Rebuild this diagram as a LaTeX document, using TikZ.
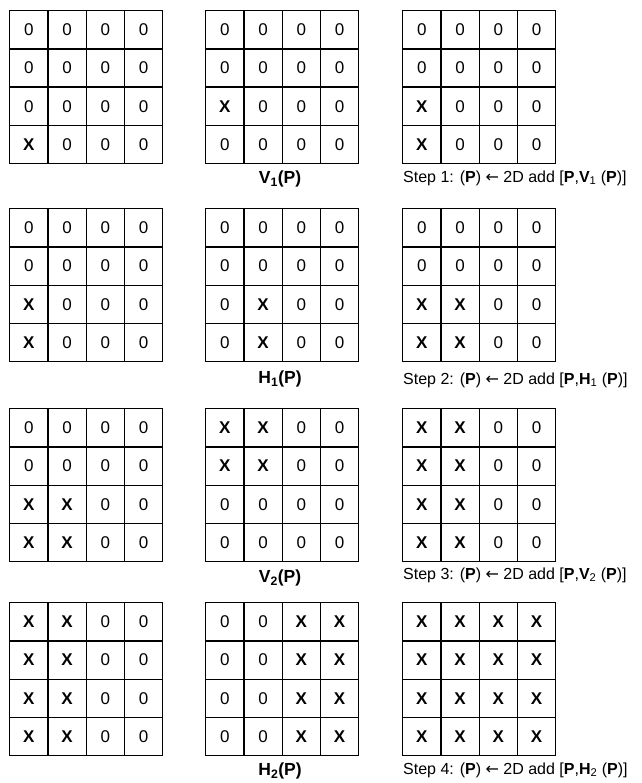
\documentclass[tikz,border=0pt]{standalone}
\usepackage{fontspec}
\setmainfont{Liberation Sans}
\newfontfamily\arrowfont{DejaVu Sans}
\tikzset{
  cellbox/.style={draw=black, line width=1.4pt, minimum size=38.25pt, inner sep=0pt, anchor=north west,
     font=\fontsize{17}{19}\selectfont},
  midlabel/.style={font=\fontsize{17.5}{19}\selectfont\bfseries, anchor=center, inner sep=0pt},
  steplabel/.style={font=\fontsize{16}{18}\selectfont, anchor=west, inner sep=0pt},
}
\newcommand\X{\textbf{X}}
% #1 name, #2 x, #3 y, #4 16 entries row-wise
\newcommand\mygrid[4]{%
  \foreach \v [count=\i from 0] in {#4} {%
    \pgfmathtruncatemacro\rr{int(\i/4)}%
    \pgfmathtruncatemacro\cc{mod(\i,4)}%
    \node[cellbox] (#1-\rr-\cc) at ({#2+\cc*38.25},{#3+\rr*38.25}) {\v};
  }%
}
\begin{document}
\begin{tikzpicture}[x=1pt,y=-1pt]
\useasboundingbox (0,0) rectangle (641,783);
% Row 1
\mygrid{a1}{9}{10}{0,0,0,0, 0,0,0,0, 0,0,0,0, \X,0,0,0}
\mygrid{a2}{205}{10}{0,0,0,0, 0,0,0,0, \X,0,0,0, 0,0,0,0}
\mygrid{a3}{402}{10}{0,0,0,0, 0,0,0,0, \X,0,0,0, \X,0,0,0}
% Row 2
\mygrid{b1}{9}{208}{0,0,0,0, 0,0,0,0, \X,0,0,0, \X,0,0,0}
\mygrid{b2}{205}{208}{0,0,0,0, 0,0,0,0, 0,\X,0,0, 0,\X,0,0}
\mygrid{b3}{402}{208}{0,0,0,0, 0,0,0,0, \X,\X,0,0, \X,\X,0,0}
% Row 3
\mygrid{c1}{9}{408}{0,0,0,0, 0,0,0,0, \X,\X,0,0, \X,\X,0,0}
\mygrid{c2}{205}{408}{\X,\X,0,0, \X,\X,0,0, 0,0,0,0, 0,0,0,0}
\mygrid{c3}{402}{408}{\X,\X,0,0, \X,\X,0,0, \X,\X,0,0, \X,\X,0,0}
% Row 4
\mygrid{d1}{9}{602}{\X,\X,0,0, \X,\X,0,0, \X,\X,0,0, \X,\X,0,0}
\mygrid{d2}{205}{602}{0,0,\X,\X, 0,0,\X,\X, 0,0,\X,\X, 0,0,\X,\X}
\mygrid{d3}{402}{602}{\X,\X,\X,\X, \X,\X,\X,\X, \X,\X,\X,\X, \X,\X,\X,\X}
% labels
\node[midlabel] (lv1) at (280,179) {V\textsubscript{1}(P)};
\node[midlabel] (lh1) at (280,379) {H\textsubscript{1}(P)};
\node[midlabel] (lv2) at (280,578) {V\textsubscript{2}(P)};
\node[midlabel] (lh2) at (280,771) {H\textsubscript{2}(P)};
\node[steplabel] (s1) at (403,178) {Step 1: (\textbf{P}) {\arrowfont←} 2D add [\textbf{P},\textbf{V}\textsubscript{1} (\textbf{P})]};
\node[steplabel] (s2) at (403,380) {Step 2: (\textbf{P}) {\arrowfont←} 2D add [\textbf{P},\textbf{H}\textsubscript{1} (\textbf{P})]};
\node[steplabel] (s3) at (403,575) {Step 3: (\textbf{P}) {\arrowfont←} 2D add [\textbf{P},\textbf{V}\textsubscript{2} (\textbf{P})]};
\node[steplabel] (s4) at (403,770) {Step 4: (\textbf{P}) {\arrowfont←} 2D add [\textbf{P},\textbf{H}\textsubscript{2} (\textbf{P})]};
\end{tikzpicture}
\end{document}
